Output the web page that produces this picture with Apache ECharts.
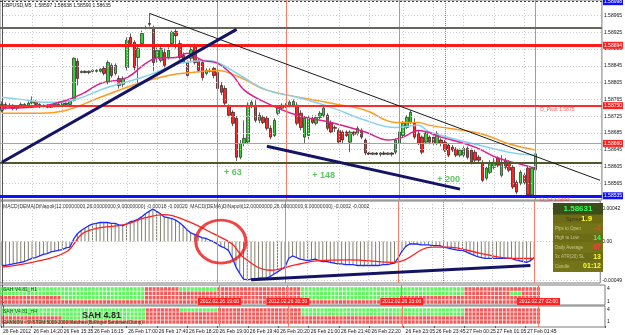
<!DOCTYPE html>
<html><head><meta charset="utf-8">
<script src="https://cdn.jsdelivr.net/npm/echarts@6/dist/echarts.min.js"></script>
<style>html,body{margin:0;padding:0;background:#fff}#c{width:625px;height:335px}</style>
</head><body><div id="c"></div>
<script>
// ---------- DATA ----------
const symbolTitle = 'GBPUSD,M5  1.58597 1.58638 1.58590 1.58635';
const nSlots = 159; // bars + empty right shift
// candles: [open, close, low, high]
const candles = [
[1.58739,1.58753,1.58734,1.58760],[1.58753,1.58746,1.58741,1.58758],[1.58746,1.58751,1.58744,1.58756],[1.58751,1.58744,1.58739,1.58753],
[1.58744,1.58748,1.58739,1.58751],[1.58748,1.58753,1.58746,1.58758],[1.58753,1.58748,1.58744,1.58756],[1.58748,1.58756,1.58746,1.58760],
[1.58756,1.58760,1.58753,1.58772],[1.58760,1.58753,1.58748,1.58763],[1.58753,1.58748,1.58744,1.58756],[1.58748,1.58751,1.58746,1.58753],
[1.58751,1.58746,1.58744,1.58753],[1.58746,1.58748,1.58744,1.58751],[1.58748,1.58753,1.58746,1.58758],[1.58753,1.58751,1.58748,1.58756],
[1.58751,1.58756,1.58746,1.58760],[1.58756,1.58753,1.58751,1.58758],[1.58753,1.58760,1.58751,1.58765],[1.58763,1.58863,1.58760,1.58865],
[1.58856,1.58815,1.58798,1.58863],[1.58829,1.58832,1.58827,1.58834],[1.58832,1.58829,1.58827,1.58834],[1.58829,1.58832,1.58825,1.58834],
[1.58834,1.58832,1.58829,1.58837],[1.58832,1.58834,1.58829,1.58837],[1.58832,1.58837,1.58829,1.58839],[1.58839,1.58827,1.58822,1.58844],
[1.58806,1.58853,1.58801,1.58858],[1.58846,1.58822,1.58817,1.58851],[1.58827,1.58846,1.58822,1.58851],[1.58815,1.58798,1.58791,1.58822],
[1.58801,1.58815,1.58794,1.58820],[1.58841,1.58906,1.58834,1.58913],[1.58913,1.58898,1.58894,1.58922],[1.58901,1.58841,1.58834,1.58906],
[1.58865,1.58886,1.58803,1.58894],[1.58898,1.58922,1.58894,1.58929],[1.58934,1.58936,1.58932,1.58941],[1.58946,1.58944,1.58939,1.58970],
[1.58936,1.58853,1.58832,1.58941],[1.58863,1.58882,1.58853,1.58889],[1.58858,1.58886,1.58853,1.58894],[1.58877,1.58846,1.58841,1.58886],
[1.58865,1.58882,1.58860,1.58889],[1.58898,1.58925,1.58891,1.58929],[1.58927,1.58917,1.58886,1.58932],[1.58898,1.58865,1.58860,1.58906],
[1.58870,1.58853,1.58851,1.58877],[1.58853,1.58822,1.58817,1.58858],[1.58863,1.58884,1.58853,1.58891],[1.58894,1.58853,1.58848,1.58898],
[1.58858,1.58834,1.58829,1.58863],[1.58853,1.58817,1.58810,1.58858],[1.58827,1.58834,1.58822,1.58839],[1.58834,1.58832,1.58829,1.58839],
[1.58839,1.58822,1.58815,1.58844],[1.58829,1.58791,1.58787,1.58834],[1.58798,1.58782,1.58775,1.58806],[1.58791,1.58756,1.58748,1.58798],
[1.58748,1.58727,1.58722,1.58753],[1.58734,1.58708,1.58701,1.58739],[1.58720,1.58627,1.58618,1.58725],[1.58627,1.58660,1.58622,1.58668],
[1.58660,1.58672,1.58653,1.58715],[1.58663,1.58751,1.58658,1.58758],[1.58748,1.58758,1.58744,1.58763],[1.58751,1.58715,1.58710,1.58763],
[1.58715,1.58727,1.58708,1.58734],[1.58722,1.58710,1.58706,1.58727],[1.58720,1.58696,1.58691,1.58725],[1.58696,1.58675,1.58670,1.58703],
[1.58679,1.58715,1.58675,1.58720],[1.58732,1.58746,1.58727,1.58751],[1.58744,1.58751,1.58739,1.58756],[1.58748,1.58751,1.58744,1.58756],
[1.58748,1.58758,1.58746,1.58763],[1.58751,1.58760,1.58748,1.58765],[1.58751,1.58708,1.58703,1.58758],[1.58732,1.58698,1.58691,1.58739],
[1.58675,1.58720,1.58660,1.58725],[1.58679,1.58720,1.58668,1.58725],[1.58720,1.58710,1.58706,1.58727],[1.58708,1.58722,1.58703,1.58727],
[1.58722,1.58732,1.58718,1.58737],[1.58727,1.58744,1.58722,1.58748],[1.58727,1.58696,1.58691,1.58732],[1.58708,1.58687,1.58682,1.58715],
[1.58698,1.58696,1.58687,1.58703],[1.58691,1.58663,1.58658,1.58696],[1.58687,1.58668,1.58660,1.58691],[1.58687,1.58679,1.58675,1.58691],
[1.58663,1.58687,1.58639,1.58691],[1.58687,1.58682,1.58677,1.58689],[1.58684,1.58696,1.58679,1.58701],[1.58691,1.58675,1.58670,1.58696],
[1.58668,1.58637,1.58632,1.58672],[1.58637,1.58634,1.58632,1.58639],[1.58634,1.58637,1.58632,1.58639],[1.58637,1.58634,1.58632,1.58639],
[1.58634,1.58637,1.58629,1.58639],[1.58637,1.58634,1.58632,1.58641],[1.58634,1.58637,1.58632,1.58639],[1.58637,1.58634,1.58629,1.58639],
[1.58639,1.58668,1.58634,1.58672],[1.58660,1.58687,1.58656,1.58691],[1.58679,1.58708,1.58675,1.58713],[1.58698,1.58722,1.58694,1.58727],
[1.58710,1.58734,1.58706,1.58739],[1.58708,1.58675,1.58670,1.58720],[1.58684,1.58660,1.58656,1.58691],[1.58675,1.58639,1.58634,1.58679],
[1.58663,1.58684,1.58658,1.58689],[1.58675,1.58663,1.58658,1.58679],[1.58675,1.58660,1.58656,1.58679],[1.58660,1.58684,1.58656,1.58689],
[1.58668,1.58660,1.58653,1.58672],[1.58663,1.58644,1.58639,1.58668],[1.58656,1.58632,1.58627,1.58660],[1.58651,1.58644,1.58639,1.58656],
[1.58646,1.58632,1.58627,1.58651],[1.58632,1.58644,1.58627,1.58648],[1.58632,1.58648,1.58627,1.58653],[1.58648,1.58627,1.58622,1.58653],
[1.58644,1.58615,1.58610,1.58648],[1.58639,1.58620,1.58615,1.58644],[1.58627,1.58620,1.58615,1.58632],[1.58615,1.58572,1.58567,1.58620],
[1.58577,1.58601,1.58572,1.58606],[1.58591,1.58613,1.58587,1.58620],[1.58603,1.58615,1.58598,1.58625],[1.58625,1.58608,1.58603,1.58629],
[1.58584,1.58613,1.58579,1.58632],[1.58620,1.58603,1.58598,1.58625],[1.58613,1.58596,1.58591,1.58620],[1.58603,1.58556,1.58551,1.58608],
[1.58567,1.58544,1.58539,1.58572],[1.58565,1.58591,1.58560,1.58596],[1.58584,1.58567,1.58563,1.58589],[1.58601,1.58537,1.58534,1.58606],
[1.58537,1.58601,1.58534,1.58606],[1.58597,1.58635,1.58590,1.58638]
];
// moving averages, read at bar index [index, price]
const maPink = [[0,1.58744],[10,1.58748],[17,1.58763],[22,1.58782],[26,1.58803],[33,1.58817],[38,1.58851],[41,1.58863],[46,1.58865],[49,1.58875],[53,1.58858],[57,1.58851],[61,1.58822],[64,1.58787],[70,1.58756],[78,1.58727],[87,1.58710],[96,1.58687],[102,1.58668],[106,1.58675],[110,1.58691],[116,1.58675],[125,1.58651],[131,1.58625],[138,1.58608],[141,1.58601]];
const maBlue = [[0,1.58770],[5,1.58765],[12,1.58758],[17,1.58760],[28,1.58794],[37,1.58817],[42,1.58834],[47,1.58851],[54,1.58858],[57,1.58853],[63,1.58822],[70,1.58787],[78,1.58770],[87,1.58746],[96,1.58715],[104,1.58698],[110,1.58703],[113,1.58687],[126,1.58656],[135,1.58637],[141,1.58632]];
const maOrange = [[0,1.58732],[10,1.58732],[17,1.58739],[26,1.58770],[36,1.58803],[44,1.58822],[50,1.58829],[57,1.58834],[63,1.58817],[70,1.58787],[87,1.58756],[96,1.58739],[104,1.58710],[110,1.58710],[113,1.58703],[126,1.58684],[135,1.58656],[141,1.58644]];
// MACD (DEMA) main per bar, and signal line points
const macdMain = [-0.00030,-0.00030,-0.00029,-0.00028,-0.00027,-0.00026,-0.00025,-0.00023,-0.00021,-0.00020,-0.00018,-0.00016,-0.00015,-0.00013,-0.00012,-0.00011,-0.00010,-0.00008,-0.00007,0.00003,
0.00010,0.00014,0.00017,0.00020,0.00022,0.00023,0.00024,0.00024,0.00024,0.00023,0.00023,0.00021,0.00020,0.00022,0.00025,0.00026,0.00028,0.00031,0.00035,0.00038,
0.00041,0.00038,0.00035,0.00031,0.00030,0.00029,0.00027,0.00024,0.00020,0.00015,0.00011,0.00009,0.00007,0.00005,0.00004,0.00002,0.00000,-0.00003,-0.00006,-0.00008,
-0.00011,-0.00020,-0.00032,-0.00040,-0.00047,-0.00048,-0.00047,-0.00047,-0.00046,-0.00046,-0.00046,-0.00044,-0.00041,-0.00038,-0.00035,-0.00032,-0.00021,-0.00018,-0.00020,-0.00022,
-0.00023,-0.00024,-0.00023,-0.00022,-0.00024,-0.00025,-0.00025,-0.00026,-0.00027,-0.00028,-0.00028,-0.00029,-0.00029,-0.00029,-0.00030,-0.00030,-0.00030,-0.00030,-0.00030,-0.00030,
-0.00030,-0.00029,-0.00029,-0.00028,-0.00027,-0.00020,-0.00012,-0.00006,-0.00003,-0.00003,-0.00003,-0.00004,-0.00004,-0.00004,-0.00005,-0.00005,-0.00005,-0.00007,-0.00008,-0.00009,
-0.00010,-0.00011,-0.00011,-0.00013,-0.00015,-0.00017,-0.00019,-0.00020,-0.00021,-0.00021,-0.00021,-0.00021,-0.00021,-0.00021,-0.00021,-0.00021,-0.00023,-0.00024,-0.00025,-0.00026,
-0.00024,-0.00020];
const macdSignal = [[0,-0.00032],[8,-0.00026],[17,-0.00013],[22,0.00012],[33,0.00022],[38,0.00030],[43,0.00034],[49,0.00026],[56,0.00010],[61,-0.00003],[64,-0.00020],[71,-0.00036],[78,-0.00029],[84,-0.00024],[92,-0.00023],[104,-0.00026],[114,-0.00007],[118,-0.00007],[127,-0.00015],[135,-0.00021],[141,-0.00021]];
// SAH signal rows (run-length, per bar), top row first
const sah1Rows = ['G38R9G10R22G43R20','G38R41G43R12G3R5','R16G22R41G26R37','R142'];
const sah2Rows = ['G38R9G10R22G43R20','G38R41G43R20','R16G22R104','R142'];
// axis ticks
const priceTicks = [1.58965,1.58925,1.58885,1.58845,1.58805,1.58765,1.58725,1.58685,1.58645,1.58605,1.58565];
const macdTicks = [0.00042,0,-0.00049];
const timeLabels = [[0,'26 Feb 2012'],[8,'26 Feb 14:20'],[16,'26 Feb 15:35'],[24,'26 Feb 16:15'],[33,'26 Feb 17:00'],[41,'26 Feb 17:40'],[49,'26 Feb 18:20'],[57,'26 Feb 19:00'],[65,'26 Feb 19:40'],[73,'26 Feb 20:20'],[81,'26 Feb 21:00'],[89,'26 Feb 21:40'],[97,'26 Feb 22:20'],[106,'26 Feb 23:05'],[114,'26 Feb 23:45'],[122,'27 Feb 00:25'],[130,'27 Feb 01:05'],[138,'27 Feb 01:45']];
const markerTimes = [[57,'2012.02.26 19:00'],[75,'2012.02.26 20:30'],[105,'2012.02.26 23:00'],[141,'2012.02.27 02:00']];
const daySeparator = 117;
// horizontal levels [price, color, width, dash, labelBg]
const levels = [
  [1.58998,'#2a2aff',1,[2,2],'#1010ff'],
  [1.58936,'#66665a',2,'solid',null],
  [1.58894,'#ff1a1a',3,'solid','#ff2020'],
  [1.58750,'#ff2a2a',2,'solid','#ff2020'],
  [1.58660,'#ff8070',1,'solid','#ff2020'],
  [1.58615,'#4f5a2c',2,'solid',null],
  [1.58535,'#1010ff',3,'solid','#1010ff']
];
const bidLevel = 1.58635;
const levelTexts = [[143,1.58750,'D_Pivot 1.5875'],[143,1.58535,'D_S1 1.5853']];
// trendlines [[i1,p1],[i2,p2], color, width]
const trendMain = [
  [[39,1.58970],[158,1.58572],'#1a1a1a',1],
  [[0,1.58615],[62,1.58932],'#141466',3],
  [[70,1.58653],[121,1.58551],'#141466',3]
];
const trendMacd = [[[66,-0.00048],[140,-0.00030],'#141466',3]];
const gains = [[61,1.58591,'+ 63'],[85,1.58584,'+ 148'],[118,1.58575,'+ 200']];
const circleAt = [58, 0];
const vLines = [57,75,105,141];
const infoRows = [['Spread:','1.9','#ffff20'],['Pips to Open','-3','#ff3a3a'],['High to Low','14','#30ff60'],['Daily Average','67','#ff3a3a'],['3x ATR(20) SL','13','#ffff20'],['Candle:','01:12','#ffff20']];
const bidText = '1.58631';

// ---------- BUILD ----------
const cats = Array.from({length:nSlots},(_,i)=>String(i));
const FONT = 'Liberation Sans';
const labelMap = {}; timeLabels.forEach(([i,t])=>labelMap[i]=t);
const markMap = {}; markerTimes.forEach(([i,t])=>markMap[i]=t);
function rle(s){const o=[];s.replace(/([GR])(\d+)/g,(m,c,n)=>{for(let k=0;k<+n;k++)o.push(c);});return o;}
function cells(rows){const d=[];rows.forEach((r,ri)=>{rle(r).forEach((c,i)=>d.push([i,4-ri,c]));});return d;}
const gridBase = {left:-1,width:606,show:true,borderColor:'#7a7a7a',borderWidth:1,backgroundColor:'#fff'};
const grids = [
  Object.assign({top:0,height:200},gridBase),
  Object.assign({top:201,height:82},gridBase),
  Object.assign({top:285,height:20},gridBase),
  Object.assign({top:306,height:21},gridBase)
];
function xA(g,extra){return Object.assign({type:'category',gridIndex:g,data:cats,boundaryGap:true,axisLine:{show:false},axisTick:{show:false},axisLabel:{show:false},splitLine:{show:false}},extra||{});}
// hidden value axes aligned with the category bands (for overlays)
function xV(g){return {type:'value',gridIndex:g,min:-0.5,max:nSlots-0.5,show:false,splitLine:{show:false}};}
const smallLbl = {fontSize:5,color:'#111',fontFamily:FONT,margin:2};
function yA(g,min,max,ticks,fmt){return {type:'value',gridIndex:g,position:'right',min:min,max:max,scale:true,
  axisLine:{show:true,lineStyle:{color:'#555'}},axisTick:{show:true,length:2,customValues:ticks,lineStyle:{color:'#555'}},
  axisLabel:Object.assign({customValues:ticks,formatter:fmt},smallLbl),splitLine:{show:false}};}
const dotted = {color:'#cccccc',width:1,type:[1,2]};
function ml(data,extra){return Object.assign({silent:true,precision:8,symbol:['none','none'],animation:false,label:{show:false},data:data},extra||{});}
function gridLineSeries(g,yvals){
  const d=[];
  yvals.forEach(v=>d.push({yAxis:v}));
  timeLabels.forEach(([i])=>{if(i>0)d.push({xAxis:i});});
  d.push({xAxis:daySeparator,lineStyle:{color:'#8a8a8a',type:[1,1],width:1}});
  return {type:'line',xAxisIndex:5+g,yAxisIndex:g,data:[],z:1,silent:true,markLine:ml(d,{lineStyle:dotted})};
}
function vLineSeries(g,z){
  return {type:'line',xAxisIndex:5+g,yAxisIndex:g,data:[],z:z,silent:true,
    markLine:ml(vLines.map(i=>({xAxis:i})),{lineStyle:{color:'#ff7a66',width:1,type:'solid'}})};
}
const lblBox = (txt,bg)=>({show:true,position:'end',distance:1,formatter:txt,backgroundColor:bg,color:'#fff',fontSize:5,fontFamily:FONT,padding:[1,1]});
const levelData = levels.map(([p,c,w,t,bg])=>({yAxis:p,lineStyle:{color:c,width:w,type:t},label:bg?lblBox(p.toFixed(5),bg):{show:false}}));
levelData.push({yAxis:bidLevel,lineStyle:{opacity:0},label:lblBox(bidLevel.toFixed(5),'#2a2a2a')});
const trendData = trendMain.map(([a,b,c,w])=>[{coord:a,lineStyle:{color:c,width:w,type:'solid'}},{coord:b}]);
const trendMacdData = trendMacd.map(([a,b,c,w])=>[{coord:a,lineStyle:{color:c,width:w,type:'solid'}},{coord:b}]);
const cellColor = p=>p.data[2]==='G'?'#3cf03c':'#f03232';

const series = [
  gridLineSeries(0,priceTicks),
  vLineSeries(0,3),
  {type:'candlestick',xAxisIndex:0,yAxisIndex:0,data:candles,barWidth:3,z:2,
    itemStyle:{color:'#38cc38',color0:'#ff2626',borderColor:'#1e2a1e',borderColor0:'#2a1a1a',borderWidth:0.7}},
  {type:'line',xAxisIndex:5,yAxisIndex:0,data:maOrange,smooth:0.4,symbol:'none',z:3,lineStyle:{color:'#ff9a1e',width:1.5}},
  {type:'line',xAxisIndex:5,yAxisIndex:0,data:maBlue,smooth:0.4,symbol:'none',z:3,lineStyle:{color:'#86d2f2',width:1.5}},
  {type:'line',xAxisIndex:5,yAxisIndex:0,data:maPink,smooth:0.4,symbol:'none',z:3,lineStyle:{color:'#dc1f8c',width:1.5}},
  {type:'line',xAxisIndex:5,yAxisIndex:0,data:[],z:4,silent:true,markLine:ml(levelData.concat(trendData))},
  {type:'scatter',xAxisIndex:5,yAxisIndex:0,z:6,symbolSize:0,silent:true,
    data:levelTexts.map(([i,p,t])=>({value:[i,p],name:t})),
    label:{show:true,position:'bottom',distance:1,align:'left',formatter:'{b}',color:'#ff3030',fontSize:5,fontFamily:FONT,offset:[-3,0]}},
  {type:'scatter',xAxisIndex:5,yAxisIndex:0,z:6,symbolSize:0,silent:true,
    data:gains.map(([i,p,t])=>({value:[i,p],name:t})),
    label:{show:true,position:'inside',formatter:'{b}',color:'#35b83a',fontSize:9,fontWeight:'bold',fontFamily:FONT}},
  // MACD
  gridLineSeries(1,macdTicks),
  vLineSeries(1,3),
  {type:'bar',xAxisIndex:1,yAxisIndex:1,data:macdMain,barWidth:1,z:2,itemStyle:{color:'#807e6c'}},
  {type:'line',xAxisIndex:1,yAxisIndex:1,data:macdMain,symbol:'none',z:3,lineStyle:{color:'#1f2cff',width:1.3}},
  {type:'line',xAxisIndex:6,yAxisIndex:1,data:macdSignal,smooth:0.4,symbol:'none',z:3,lineStyle:{color:'#ff2020',width:1.3}},
  {type:'line',xAxisIndex:6,yAxisIndex:1,data:[],z:4,silent:true,markLine:ml(trendMacdData)},
  {type:'scatter',xAxisIndex:6,yAxisIndex:1,z:5,silent:true,data:[circleAt],symbol:'circle',symbolSize:[50,43],
    itemStyle:{color:'rgba(0,0,0,0)',borderColor:'#ee1515',borderWidth:3}},
  // SAH panels
  vLineSeries(2,1),
  {type:'scatter',xAxisIndex:2,yAxisIndex:2,z:2,silent:true,data:cells(sah1Rows),symbol:'rect',symbolSize:[3.1,3.6],itemStyle:{color:cellColor}},
  vLineSeries(3,1),
  {type:'scatter',xAxisIndex:3,yAxisIndex:3,z:2,silent:true,data:cells(sah2Rows),symbol:'rect',symbolSize:[3.1,3.4],itemStyle:{color:cellColor}}
];

const ink = (x,y,t,size,color,extra)=>({type:'text',x:x,y:y,z:100,style:Object.assign({text:t,fontSize:size,fill:color,fontFamily:FONT},extra||{})});
const graphic = [
  ink(2,3,symbolTitle,5,'#111'),
  ink(3,204,'MACD(DEMA)DiNapoli(12.00000000,26.00000000,9.00000000) -0.00018 -0.00020  MACD(DEMA)DiNapoli(12.00000000,26.00000000,9.00000000) -0.0002 -0.0002',5,'#333'),
  ink(3,287,'SAH V4.81_H1',5,'#0a5a0a'),
  ink(3,309,'SAH V4.81_H4',5,'#0a5a0a'),
  ink(82,311,'SAH 4.81',9,'#2a2a2a',{fontWeight:'bold'}),
  ink(3,320,'GANNON - SYSTEM 5000-2000 Matches (Bollinger Sentiment Dump)',4.5,'#0a5a0a'),
  {type:'rect',z:90,shape:{x:553,y:203,width:50,height:69},style:{fill:'#76761a'}},
  {type:'rect',z:91,shape:{x:553,y:203,width:50,height:12},style:{fill:'#3d4c1a'}},
  ink(578,209,bidText,8,'#2cff5c',{fontWeight:'bold',align:'center',verticalAlign:'middle'})
];
infoRows.forEach((r,k)=>{
  const y = 219 + k*9.5;
  graphic.push({type:'rect',z:91,shape:{x:553,y:y-4.5,width:50,height:9},style:{fill:k%2?'#737318':'#6c6c16'}});
  graphic.push(ink(k===0?566:555,y,r[0],k===0?6:4.5,k===0?'#3a3a14':'#c8c890',{verticalAlign:'middle'}));
  graphic.push(ink(k===0?581:601,y,r[1],k===0?8:7,r[2],{fontWeight:'bold',verticalAlign:'middle',align:k===0?'left':'right'}));
});

const option = {
  animation:false,
  backgroundColor:'#fff',
  grid:grids,
  xAxis:[xA(0),xA(1),xA(2),
    xA(3,{axisLabel:{show:true,interval:(i)=>labelMap[i]!==undefined,formatter:(v,i)=>labelMap[i]||'',align:'left',fontSize:5,color:'#111',fontFamily:FONT,margin:2},
      axisTick:{show:true,length:2,interval:(i)=>labelMap[i]!==undefined,lineStyle:{color:'#555'}}}),
    xA(3,{z:5,axisLabel:{show:true,interval:(i)=>markMap[i]!==undefined,formatter:(v,i)=>markMap[i]||'',align:'center',fontSize:5,color:'#fff',backgroundColor:'#ff2020',padding:[1,2],fontFamily:FONT,margin:1}}),
    xV(0),xV(1),xV(2),xV(3)
  ],
  yAxis:[
    yA(0,1.58525,1.59002,priceTicks,v=>v.toFixed(5)),
    yA(1,-0.00052,0.00051,macdTicks,v=>Math.abs(v)<1e-9?'0.00':v.toFixed(5)),
    yA(2,0.31,4.92,[4,1],v=>String(Math.round(v))),
    yA(3,-0.25,5,[4,1],v=>String(Math.round(v)))
  ],
  series:series,
  graphic:graphic
};
const chart = echarts.init(document.getElementById('c'),null,{renderer:'canvas'});
chart.setOption(option);
</script></body></html>
